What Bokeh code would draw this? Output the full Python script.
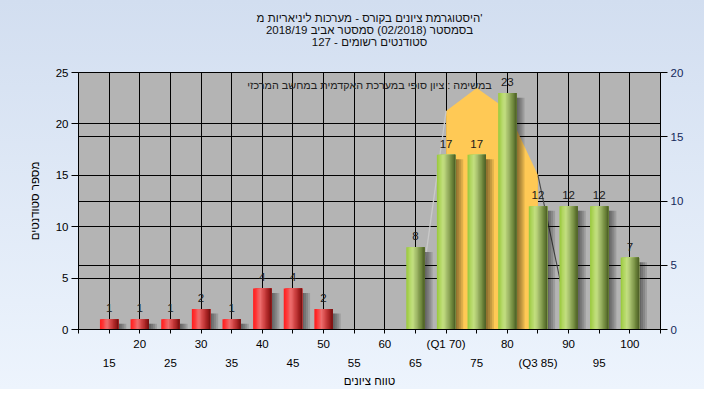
from bokeh.plotting import figure
from bokeh.models import Range1d, LinearAxis, FixedTicker, Grid, Title, Label, ColumnDataSource
from bokeh.core.properties import value
from bokeh.embed import file_html
from bokeh.resources import INLINE

# ---------------- data ----------------
grades = [15, 20, 25, 30, 35, 40, 45, 50, 55, 60, 65, 70, 75, 80, 85, 90, 95, 100]
tick_labels = ["15", "20", "25", "30", "35", "40", "45", "50", "55", "60", "65",
               "(Q1 70)", "75", "80", "(Q3 85)", "90", "95", "100"]
counts = [1, 1, 1, 2, 1, 4, 4, 2, 0, 0, 8, 17, 17, 23, 12, 12, 12, 7]
pass_grade = 55

curve_grades = [65, 70, 75, 80, 85, 90]
curve_values = [0.0, 17.0, 18.8, 17.1, 12.0, 0.7]
q1_grade = 70
q3_grade = 85

title_lines = ["היסטוגרמת ציונים בקורס - מערכות ליניאריות מ'",
               "בסמסטר (02/2018) סמסטר אביב 2018/19",
               "סטודנטים רשומים - 127"]
note_text = "במשימה : ציון סופי במערכת האקדמית במחשב המרכזי"
y_label = "מספר סטודנטים"
x_label = "טווח ציונים"

left_ticks = [0, 5, 10, 15, 20, 25]
right_ticks = [0, 5, 10, 15, 20]

# ---------------- style ----------------
FONT = "Liberation Sans"
FS = "11.5px"
BAR_W = 0.6
N_STRIPS = 14
red_stops = [(0.0, "#ff1c1c"), (0.15, "#ff3434"), (0.38, "#ee7070"), (0.6, "#d04444"),
             (0.85, "#a01e1e"), (1.0, "#6e1010")]
green_stops = [(0.0, "#98c83a"), (0.18, "#b2d662"), (0.35, "#c4e082"), (0.55, "#a2ba6a"),
               (0.8, "#718a3e"), (1.0, "#4a5c24")]


def hex2rgb(h):
    h = h.lstrip("#")
    return tuple(int(h[i:i + 2], 16) for i in (0, 2, 4))


def interp(stops, t):
    for (t0, c0), (t1, c1) in zip(stops[:-1], stops[1:]):
        if t0 <= t <= t1:
            f = (t - t0) / (t1 - t0)
            a, b = hex2rgb(c0), hex2rgb(c1)
            return "#%02x%02x%02x" % tuple(int(round(a[k] + (b[k] - a[k]) * f)) for k in range(3))
    return stops[-1][1]


pos = {g: i + 1 for i, g in enumerate(grades)}
n = len(grades)

p = figure(width=704, height=389, output_backend="svg", toolbar_location=None,
           x_range=Range1d(0, n + 1), y_range=Range1d(0, 25),
           min_border_left=78, min_border_right=44, min_border_top=72, min_border_bottom=59)
p.border_fill_color = None
p.styles = {"background": "linear-gradient(to bottom, #d2def0, #edf4fd)"}
p.background_fill_color = "#b4b4b4"
p.outline_line_color = "black"
p.outline_line_width = 1

# right axis
p.extra_y_ranges = {"right": Range1d(0, 20)}
raxis = LinearAxis(y_range_name="right", ticker=FixedTicker(ticks=right_ticks))
p.add_layout(raxis, "right")
p.add_layout(Grid(dimension=1, ticker=FixedTicker(ticks=right_ticks), y_range_name="right",
                  grid_line_color="black", grid_line_width=1), "center")

# left axis
p.yaxis[0].ticker = FixedTicker(ticks=left_ticks)
p.yaxis[0].axis_label = y_label

# bottom axis (upper row of labels)
xaxis = p.xaxis[0]
xaxis.ticker = FixedTicker(ticks=list(range(0, n + 2)))
over1 = {0: "", n + 1: ""}
for i, lab in enumerate(tick_labels):
    over1[i + 1] = lab if i % 2 == 1 else ""
xaxis.major_label_overrides = over1

# second bottom axis (lower row of labels)
over2 = {}
for i, lab in enumerate(tick_labels):
    if i % 2 == 0:
        over2[i + 1] = lab
xaxis2 = LinearAxis(ticker=FixedTicker(ticks=[i + 1 for i in range(n) if i % 2 == 0]),
                    major_label_overrides=over2, axis_label=x_label)
p.add_layout(xaxis2, "below")

for ax in [p.yaxis[0], raxis, xaxis, xaxis2]:
    ax.major_label_text_font = FONT
    ax.major_label_text_font_size = FS
    ax.major_label_text_color = "black"
    ax.axis_label_text_font = FONT
    ax.axis_label_text_font_size = FS
    ax.axis_label_text_font_style = "normal"
    ax.axis_label_text_color = "black"
    ax.minor_tick_line_color = None
    ax.major_tick_in = 0
    ax.axis_line_color = "black"
    ax.major_tick_line_color = "black"

p.yaxis[0].major_tick_out = 7
p.yaxis[0].major_label_standoff = 3
p.yaxis[0].axis_label_standoff = 12
raxis.major_tick_out = 7
raxis.major_label_standoff = 3
raxis.major_label_text_color = "#14285a"
xaxis.major_tick_out = 4
xaxis.major_label_standoff = 4
xaxis2.axis_line_color = None
xaxis2.major_tick_line_color = None
xaxis2.major_tick_out = 0
xaxis2.major_label_standoff = 4
xaxis2.axis_label_standoff = 3

for g in [p.xgrid[0], p.ygrid[0]]:
    g.grid_line_color = "black"
    g.grid_line_width = 1

# titles: p.title is outermost; first added panel sits nearest the frame
p.title.text = title_lines[0]
p.title.standoff = -2
p.add_layout(Title(text=" ", align="center", standoff=12), "above")   # gap above the frame
p.add_layout(Title(text=title_lines[2], align="center", standoff=-2), "above")
p.add_layout(Title(text=title_lines[1], align="center", standoff=-2), "above")
for t in [p.title] + list(p.above):
    if isinstance(t, Title):
        t.align = "center"
        t.text_font = FONT
        t.text_font_size = FS
        t.text_font_style = "normal"
        t.text_color = "#111111"

# interquartile shaded area under the curve
band_x = [pos[g] for g in curve_grades if q1_grade <= g <= q3_grade]
band_y = [v for g, v in zip(curve_grades, curve_values) if q1_grade <= g <= q3_grade]
p.varea(x=band_x, y1=[0] * len(band_x), y2=band_y, y_range_name="right",
        fill_color="#ffc955")
lx = [pos[g] for g in curve_grades if g <= q1_grade]
ly = [v for g, v in zip(curve_grades, curve_values) if g <= q1_grade]
p.line(lx, ly, y_range_name="right", line_color="#c9c9c9", line_width=1.3)
rx = [pos[g] for g in curve_grades if g >= q3_grade]
ry = [v for g, v in zip(curve_grades, curve_values) if g >= q3_grade]
p.line(rx, ry, y_range_name="right", line_color="#454545", line_width=1.1)

# bar shadows
for k in range(4):
    sl, sr, st = [], [], []
    for g, c in zip(grades, counts):
        if c <= 0:
            continue
        sl.append(pos[g] + BAR_W / 2 - 0.05)
        sr.append(pos[g] + BAR_W / 2 + 0.065 * (k + 1))
        st.append(max(c - 0.45, 0.05))
    p.quad(left=sl, right=sr, bottom=[0] * len(sl), top=st,
           fill_color="black", fill_alpha=0.13, line_color=None)

# bars with cylindrical gradient
for j in range(N_STRIPS):
    t = (j + 0.5) / N_STRIPS
    L, R, T, C = [], [], [], []
    for g, c in zip(grades, counts):
        if c <= 0:
            continue
        x0 = pos[g] - BAR_W / 2
        L.append(x0 + j * BAR_W / N_STRIPS)
        R.append(x0 + BAR_W)
        T.append(c)
        C.append(interp(red_stops if g < pass_grade else green_stops, t))
    p.quad(left=L, right=R, bottom=[0] * len(L), top=T, fill_color=C, line_color=None)

# value labels
lab_src = ColumnDataSource(dict(
    x=[pos[g] for g, c in zip(grades, counts) if c > 0],
    y=[c for c in counts if c > 0],
    t=[str(c) for c in counts if c > 0]))
p.text(x="x", y="y", text="t", source=lab_src, text_align="center",
       text_baseline="alphabetic", y_offset=-11, text_font=value(FONT),
       text_font_size=FS, text_color="#1a1a1a")

# note inside plot
p.add_layout(Label(x=(n + 1) / 2, y=23.8, text=note_text, text_align="center",
                   text_baseline="middle", text_font=FONT, text_font_size="10.8px",
                   text_color="#222222"))

open("out.html", "w").write(file_html(p, INLINE))
